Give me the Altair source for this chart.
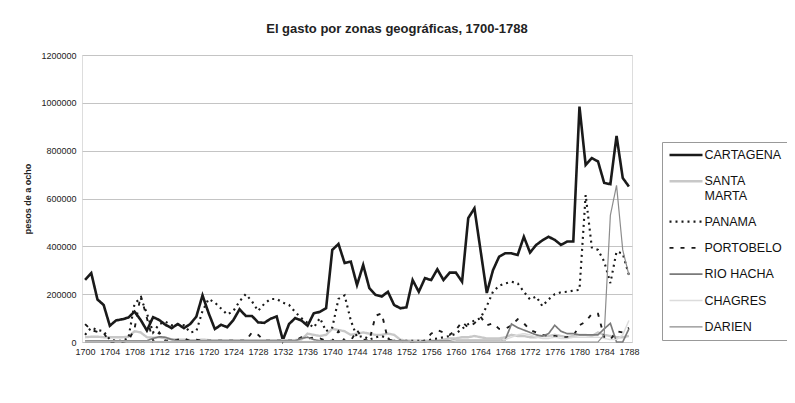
import altair as alt
import pandas as pd

years = list(range(1700, 1789))

series_names = ["CARTAGENA", "SANTA MARTA", "PANAMA", "PORTOBELO", "RIO HACHA", "CHAGRES", "DARIEN"]

# values in thousands of pesos de a ocho
cartagena = [260, 288, 178, 155, 68, 90, 95, 102, 127, 92,
             48, 104, 92, 72, 58, 75, 58, 75, 106, 195,
             120, 54, 72, 62, 92, 137, 109, 109, 82, 80,
             97, 107, 8, 75, 100, 90, 68, 120, 126, 141,
             385, 410, 330, 336, 238, 322, 225, 197, 190, 210,
             155, 141, 145, 259, 210, 267, 259, 304, 259, 290,
             290, 252, 518, 559, 382, 205, 300, 357, 371, 371,
             364, 440, 374, 406, 425, 440, 427, 406, 420, 420,
             984, 740, 769, 755, 665, 660, 862, 686, 650]
santa_marta = [20, 22, 22, 20, 20, 20, 20, 22, 45, 40,
               20, 18, 20, 15, 12, 10, 10, 8, 8, 10,
               8, 8, 8, 8, 8, 8, 8, 8, 8, 8,
               8, 8, 8, 8, 8, 10, 35, 30, 25, 30,
               55, 50, 45, 30, 35, 40, 35, 30, 30, 35,
               30, 10, 5, 5, 5, 5, 5, 5, 10, 15,
               15, 20, 20, 25, 20, 15, 15, 15, 20, 30,
               25, 25, 20, 20, 25, 25, 30, 25, 20, 25,
               30, 30, 25, 40, 30, 25, 20, 20, 25]
panama = [30, 60, 50, 45, 10, 5, 5, 15, 160, 185,
          120, 40, 75, 85, 70, 75, 70, 40, 45, 130,
          180, 165, 140, 115, 130, 170, 200, 170, 130, 160,
          180, 180, 165, 155, 125, 100, 80, 60, 100, 45,
          60, 180, 195, 90, 20, 25, 10, 20, 25, 15,
          5, 5, 5, 5, 5, 5, 10, 15, 20, 25,
          35, 55, 75, 90, 100, 150, 210, 235, 245, 252,
          245, 210, 178, 190, 150, 178, 200, 208, 210, 215,
          218, 615, 395, 385, 336, 246, 378, 370, 280]
portobelo = [75, 50, 42, 38, 0, 0, 0, 5, 55, 195,
             100, 5, 40, 5, 5, 10, 15, 5, 10, 5,
             5, 5, 5, 5, 5, 5, 5, 40, 30, 5,
             5, 5, 5, 5, 5, 20, 15, 18, 15, 5,
             5, 45, 5, 5, 50, 10, 5, 110, 120, 10,
             5, 5, 0, 0, 0, 5, 35, 50, 40, 30,
             50, 85, 60, 78, 105, 70, 78, 55, 55, 70,
             95, 78, 50, 40, 30, 25, 25, 20, 20, 25,
             70, 85, 118, 118, 20, 10, 45, 40, 60]
rio_hacha = [5, 5, 5, 5, 5, 5, 5, 5, 5, 5,
             5, 15, 22, 20, 10, 5, 5, 5, 5, 5,
             5, 5, 5, 5, 5, 5, 5, 5, 5, 5,
             5, 5, 5, 5, 5, 15, 20, 10, 5, 5,
             5, 5, 5, 5, 5, 5, 5, 5, 5, 5,
             5, 5, 5, 0, 0, 0, 5, 5, 5, 5,
             8, 8, 8, 8, 8, 8, 8, 8, 10, 75,
             60, 50, 40, 30, 25, 35, 70, 45, 35, 35,
             30, 30, 30, 30, 55, 78, 0, 0, 55]
chagres = [2] * 60 + [8, 8, 8, 8, 8, 8, 8, 8, 10, 20,
                      30, 35, 30, 20, 15, 15, 20, 15, 15, 20,
                      20, 20, 20, 20, 15, 10, 10, 30, 90]
darien = [0] * 84 + [30, 530, 655, 385, 280]

values = [cartagena, santa_marta, panama, portobelo, rio_hacha, chagres, darien]

colors = ["#1a1a1a", "#c8c8c8", "#1a1a1a", "#1a1a1a", "#7a7a7a", "#dcdcdc", "#8c8c8c"]
dashes = [[1, 0], [1, 0], [2, 4], [4, 7], [1, 0], [1, 0], [1, 0]]
widths = [2.6, 1.2, 2.4, 3.2, 2.2, 1.2, 1.6]

rows = []
for name, vals in zip(series_names, values):
    for yr, v in zip(years, vals):
        rows.append({"year": yr, "serie": name, "pesos": v * 1000})
df = pd.DataFrame(rows)

year_ticks = list(range(1700, 1789, 4))

font = "Liberation Sans"

legend = alt.Legend(
    title=None,
    orient="none",
    legendX=580,
    legendY=87,
    symbolType="stroke",
    symbolSize=1089,
    clipHeight=14,
    labelFont=font,
    labelFontSize=12.5,
    labelColor="#111",
    labelOffset=0.5,
    strokeColor="#999",
    padding=6,
    rowPadding=12.3,
    labelExpr="datum.label == 'SANTA MARTA' ? ['SANTA', 'MARTA'] : datum.label",
)

chart = alt.Chart(df).mark_line(interpolate="linear").encode(
    x=alt.X("year:Q",
            scale=alt.Scale(domain=[1699.5, 1788.5], nice=False, zero=False),
            axis=alt.Axis(values=year_ticks, format="d", title=None, grid=False,
                          ticks=False, domain=False, labelFont=font, labelFontSize=9,
                          labelColor="#222", labelPadding=5, labelOverlap=False)),
    y=alt.Y("pesos:Q",
            scale=alt.Scale(domain=[0, 1200000], nice=False),
            axis=alt.Axis(values=[0, 200000, 400000, 600000, 800000, 1000000, 1200000],
                          format="d", title="pesos de a ocho", grid=True,
                          gridColor="#c4c4c4", gridWidth=1, ticks=False, domain=False,
                          labelFont=font, labelFontSize=9, labelColor="#222",
                          labelPadding=6, titleFont=font, titleFontSize=9,
                          titleFontWeight="bold", titleColor="#222", titlePadding=8)),
    color=alt.Color("serie:N", sort=series_names,
                    scale=alt.Scale(domain=series_names, range=colors), legend=legend),
    strokeDash=alt.StrokeDash("serie:N", sort=series_names,
                              scale=alt.Scale(domain=series_names, range=dashes), legend=legend),
    strokeWidth=alt.StrokeWidth("serie:N", sort=series_names,
                                scale=alt.Scale(domain=series_names, range=widths), legend=legend),
    order=alt.Order("year:Q"),
).properties(
    width=550,
    height=287,
    title=alt.Title("El gasto por zonas geográficas, 1700-1788", anchor="middle", dx=40,
                    offset=15, font=font, fontSize=13, fontWeight="bold", color="#222"),
    autosize=alt.AutoSizeParams(type="none"),
    padding={"left": 74, "top": 47, "right": 155, "bottom": 50},
).configure_view(
    stroke="#999", strokeWidth=1
).configure(background="white")

chart.save("out.html", embed_options={"renderer": "svg", "actions": False})
